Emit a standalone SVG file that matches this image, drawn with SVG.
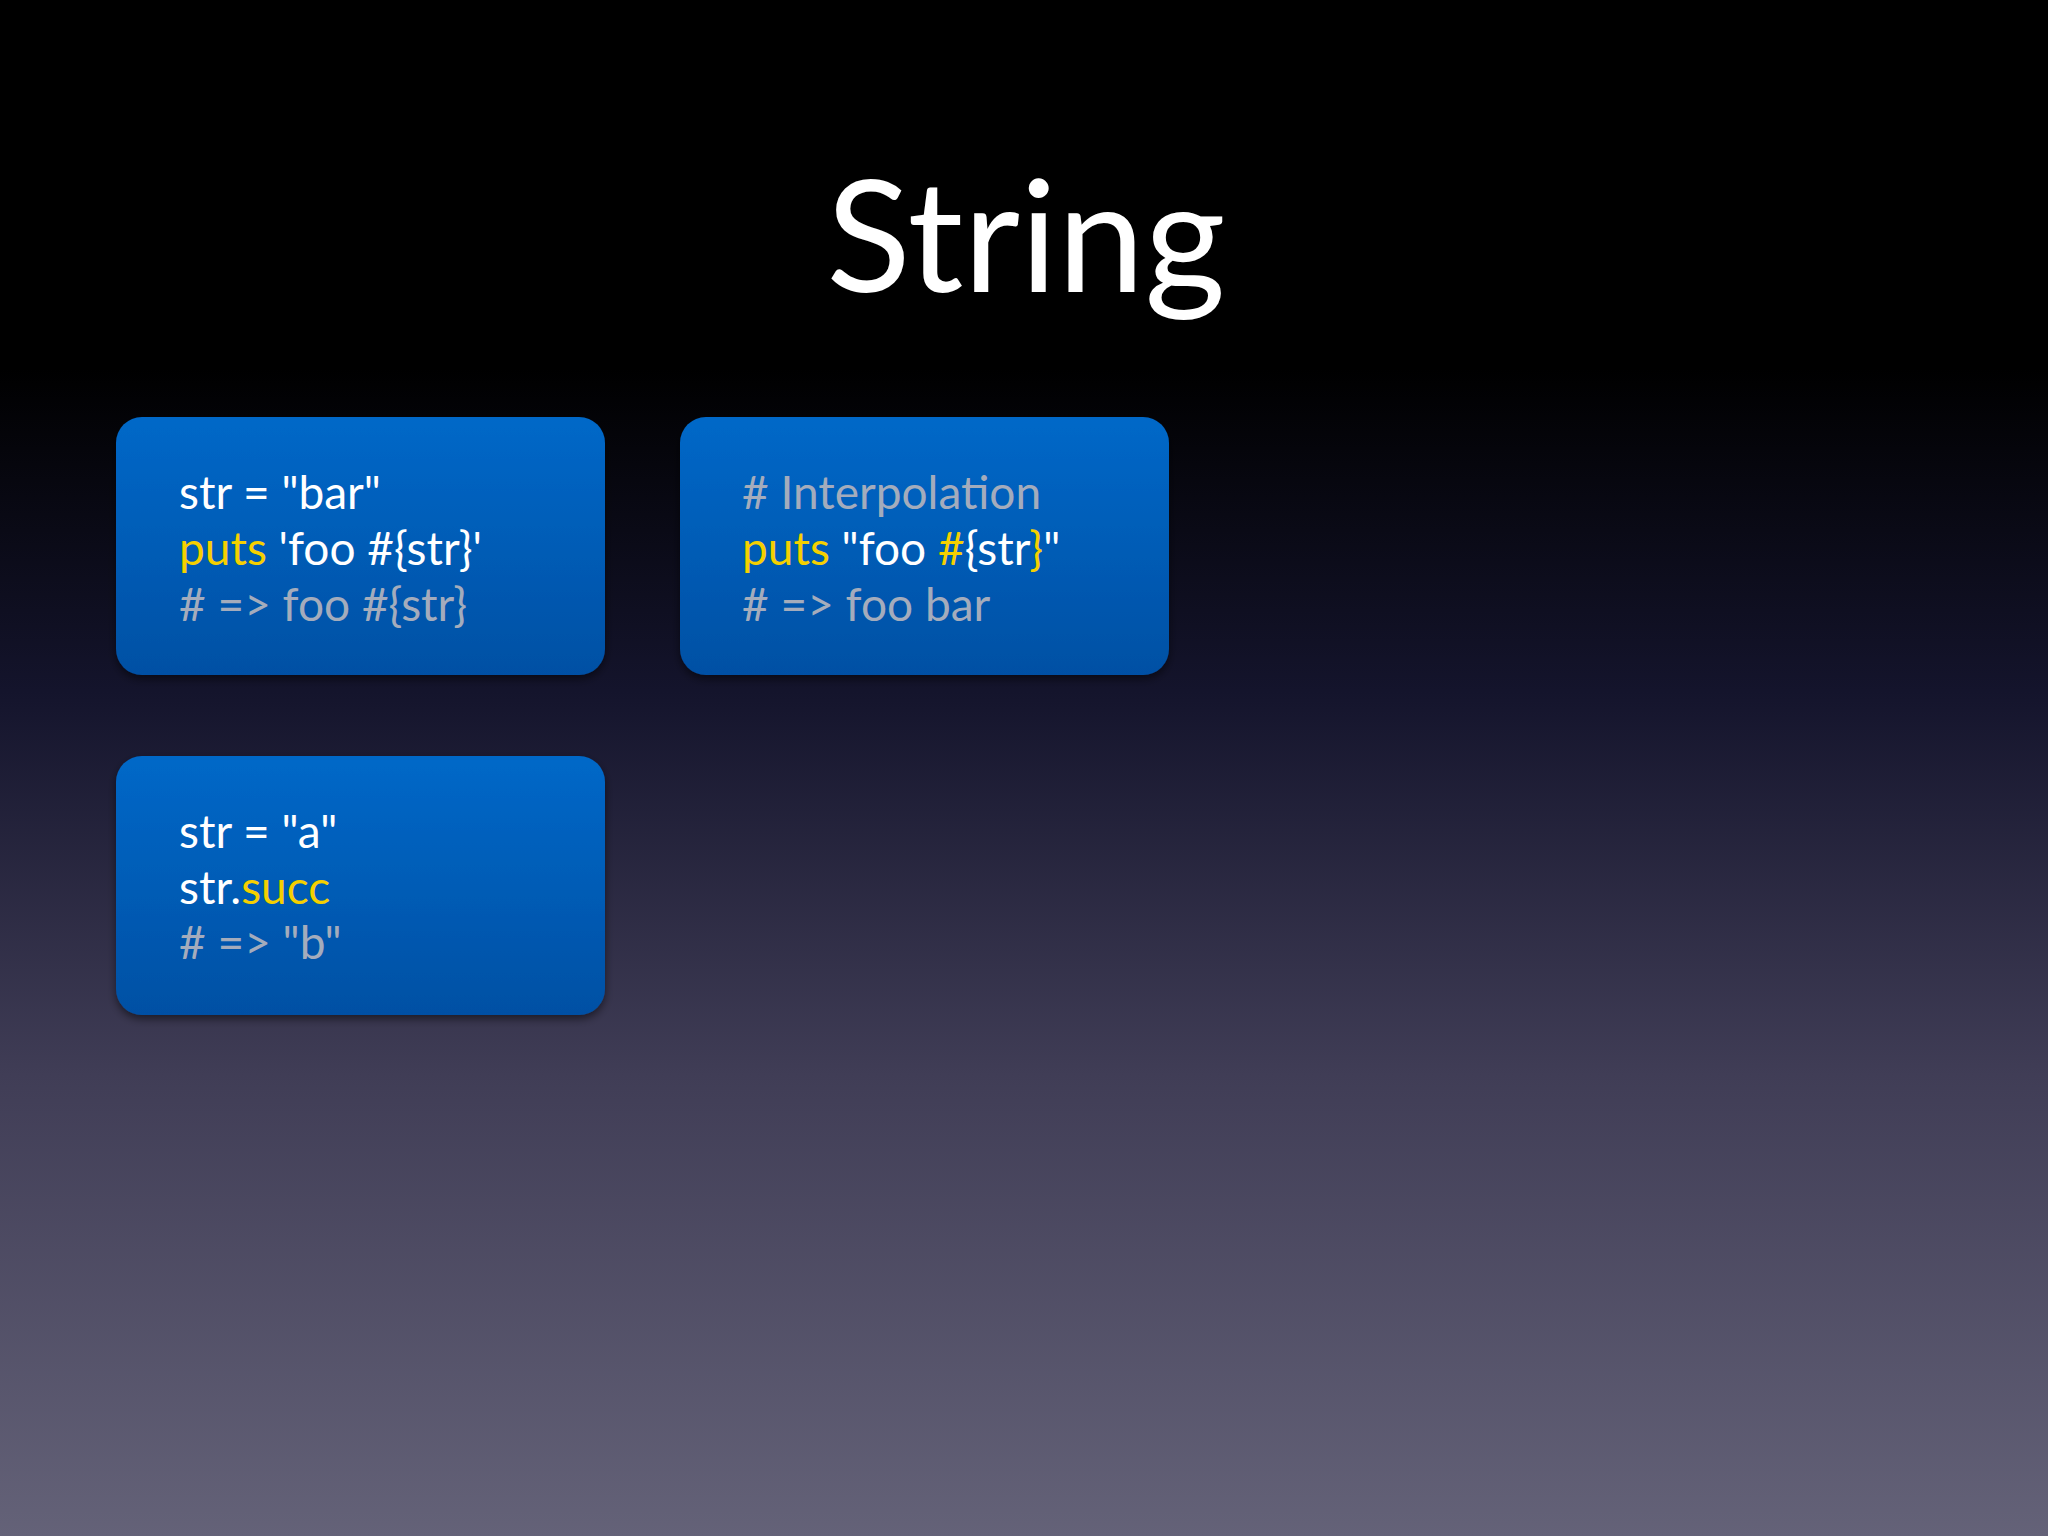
<svg xmlns="http://www.w3.org/2000/svg" width="2048" height="1536" viewBox="0 0 2048 1536">
<defs>
<linearGradient id="bg" x1="0" y1="0" x2="0" y2="1">
<stop offset="0" stop-color="#000"/>
<stop offset="0.24" stop-color="#000"/>
<stop offset="0.45" stop-color="#14142c"/>
<stop offset="0.7" stop-color="#403d56"/>
<stop offset="1" stop-color="#646278"/>
</linearGradient>
<linearGradient id="box" x1="0" y1="0" x2="0" y2="1">
<stop offset="0" stop-color="#0068c8"/>
<stop offset="1" stop-color="#0050a4"/>
</linearGradient>
<filter id="sh" x="-10%" y="-10%" width="120%" height="130%">
<feDropShadow dx="0" dy="4" stdDeviation="4" flood-color="#000" flood-opacity="0.5"/>
</filter>
</defs>
<style>
.b{fill:url(#box);filter:url(#sh)}
.t{font-family:Lato,"Open Sans",sans-serif;font-size:46px;fill:#fff}
.y{fill:#f5d000}
.c{fill:#a4acbc}
</style>
<rect width="2048" height="1536" fill="url(#bg)"/>
<text x="1026" y="292" text-anchor="middle" font-family="Lato,'Open Sans',sans-serif" font-size="156" fill="#fff">String</text>
<g id="box1">
<rect class="b" x="116" y="417" width="489" height="258" rx="26"/>
<text class="t" x="179" y="509">str = "bar"</text>
<text class="t" x="179" y="565"><tspan class="y">puts</tspan> 'foo #{str}'</text>
<text class="t c" x="179" y="621"># =&gt; foo #{str}</text>
</g>
<g id="box2">
<rect class="b" x="680" y="417" width="489" height="258" rx="26"/>
<text class="t c" x="742" y="509"># Interpolation</text>
<text class="t" x="742" y="565"><tspan class="y">puts</tspan> "foo <tspan class="y">#</tspan>{str<tspan class="y">}</tspan>"</text>
<text class="t c" x="742" y="621"># =&gt; foo bar</text>
</g>
<g id="box3">
<rect class="b" x="116" y="756" width="489" height="259" rx="26"/>
<text class="t" x="179" y="848">str = "a"</text>
<text class="t" x="179" y="904">str.<tspan class="y">succ</tspan></text>
<text class="t c" x="179" y="959"># =&gt; "b"</text>
</g>
<g id="connectors"/>
</svg>
